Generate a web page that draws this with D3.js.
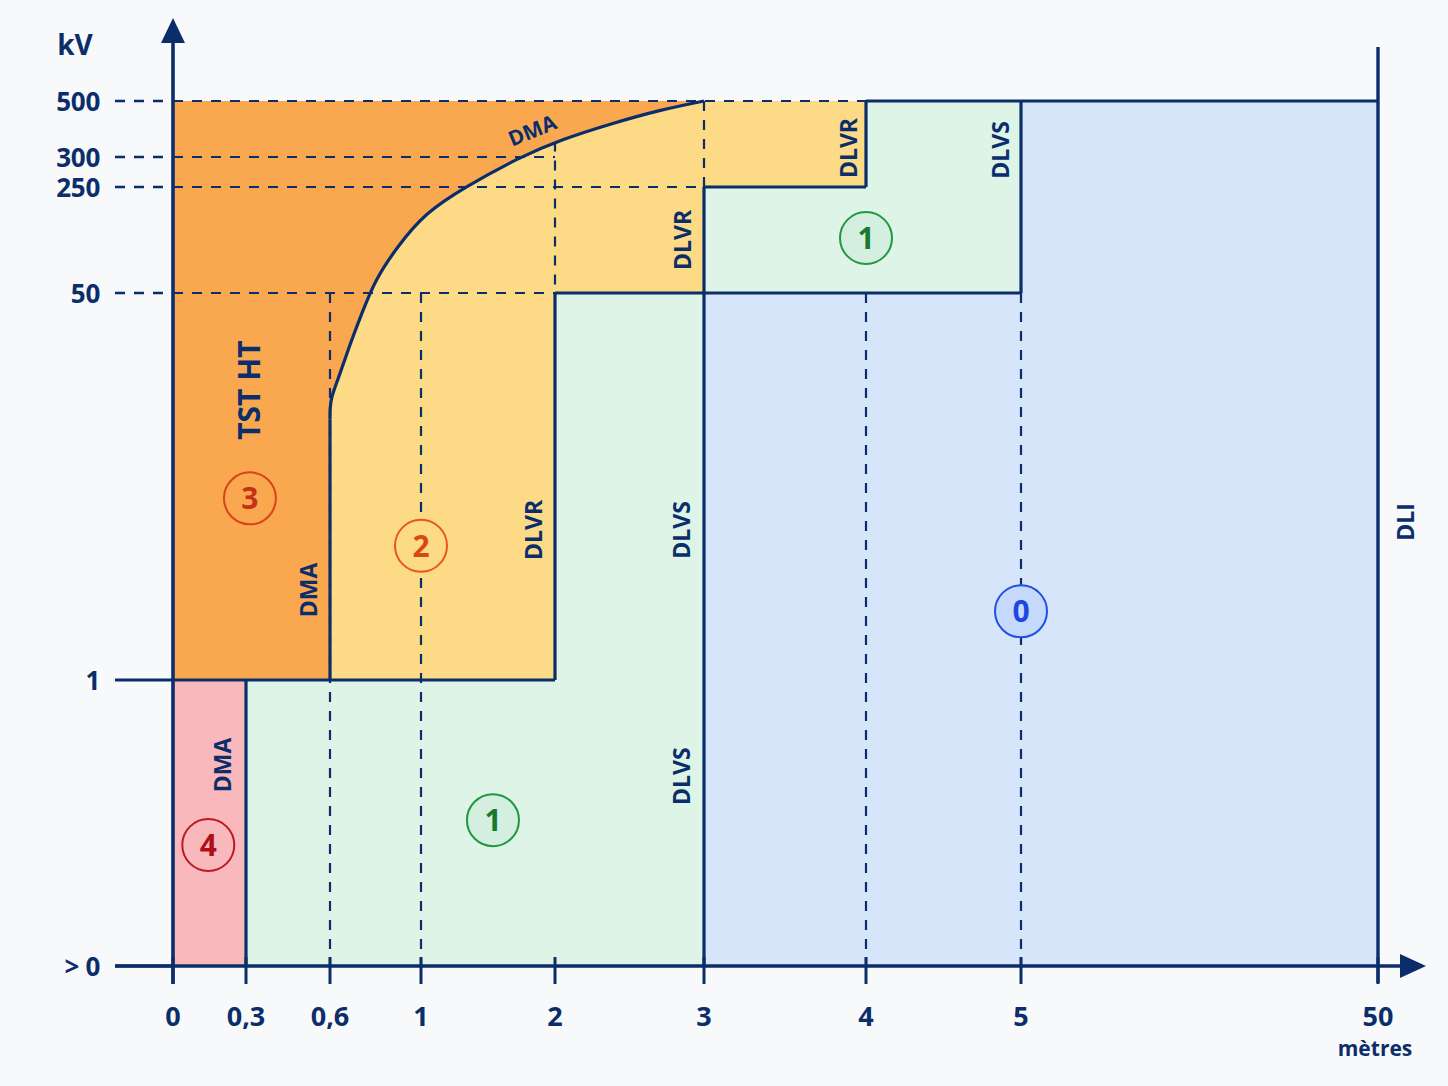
<!DOCTYPE html>
<html>
<head>
<meta charset="utf-8">
<script src="https://cdn.jsdelivr.net/npm/d3@7"></script>
<style>
  body { margin: 0; background: #f8f9fa; }
  svg { display: block; font-family: "Open Sans", sans-serif; font-weight: 700; }
</style>
</head>
<body>
<div id="graph-container"></div>
<script>
const WIDTH = 1448,
    HEIGHT = 1086;

const navy = "#0b2e6b";

// axes values (non linear)
const metres = [0, 0.3, 0.6, 1, 2, 3, 4, 5, 50];
const metreLabels = ["0", "0,3", "0,6", "1", "2", "3", "4", "5", "50"];
const kv = [0, 1, 50, 250, 300, 500];
const kvLabels = ["> 0", "1", "50", "250", "300", "500"];
const kvDashed = [false, false, true, true, true, true];

// DMA boundary curve, [metres, kV]
const dmaCurve = [
    [0.6, 34], [0.6, 36.5], [0.635, 39], [0.684, 43.2], [0.741, 47.5],
    [0.798, 74.5], [0.895, 137], [1.03, 201], [1.328, 250], [1.739, 300],
    [2.034, 361], [2.389, 421], [2.705, 468], [3, 500]
];

// zones, [metres, kV]
const zone4 = [[0, 0], [0.3, 0], [0.3, 1], [0, 1]];
const zone3 = [[0, 1], [3, 1], [3, 500], [0, 500]];
const zone2Rest = [[4, 500], [4, 250], [3, 250], [3, 50], [2, 50], [2, 1], [0.6, 1]];
const zone1a = [[0.3, 0], [3, 0], [3, 50], [2, 50], [2, 1], [0.3, 1]];
const zone1b = [[3, 50], [3, 250], [4, 250], [4, 500], [5, 500], [5, 50]];
const zone0 = [[3, 0], [50, 0], [50, 500], [5, 500], [5, 50], [3, 50]];

const zoneColors = {
    "0": "#d7e5fb", "1": "#ddf4e6", "2": "#fdda86", "3": "#f9a84f", "4": "#f9b8bb"
};

// solid boundaries, [[m, kV], [m, kV]]
const solidLines = [
    [[0.3, 0], [0.3, 1]],
    [[0.6, 1], [0.6, 34]],
    [[2, 1], [2, 50]],
    [[2, 50], [5, 50]],
    [[3, 0], [3, 250]],
    [[3, 250], [4, 250]],
    [[4, 250], [4, 500]],
    [[4, 500], [50, 500]],
    [[5, 50], [5, 500]],
    [[0, 1], [2, 1]]
];

// dashed guides
const dashedLines = [
    [[0, 500], [4, 500]],
    [[0, 300], [2, 300]],
    [[0, 250], [3, 250]],
    [[0, 50], [2, 50]],
    [[2, 355], [2, 50]],
    [[3, 500], [3, 250]],
    [[0.6, 50], [0.6, 0]],
    [[1, 50], [1, 0]],
    [[4, 50], [4, 0]],
    [[5, 50], [5, 0]]
];

// vertical labels: text, m, kV, dx (px), size
const vLabels = [
    ["TST HT", 0.3, 37.7, 3, 30],
    ["DMA", 0.6, 12.4, -21, 23],
    ["DLVR", 2, 20, -21, 23],
    ["DLVS", 3, 20, -22, 23],
    ["DLVS", 3, 0.664, -22, 23],
    ["DMA", 0.3, 0.703, -23, 23],
    ["DLVR", 3, 150, -21, 23],
    ["DLVR", 4, 332, -17, 23],
    ["DLVS", 5, 325, -20, 23],
    ["DLI", 50, 21, 28, 23]
];

// zone numbers: label, m, kV
const badges = [
    ["0", 5, 9.7],
    ["1", 4, 153.8],
    ["1", 1.537, 0.51],
    ["2", 1, 18],
    ["3", 0.314, 24],
    ["4", 0.145, 0.423]
];
const badgeStyle = {
    "0": { stroke: "#2350e0", text: "#1d48e0", fill: "#c4d9fb" },
    "1": { stroke: "#21973f", text: "#17792f", fill: "#d4efdf" },
    "2": { stroke: "#e8561c", text: "#d9490f", fill: zoneColors["2"] },
    "3": { stroke: "#d8431c", text: "#c5321a", fill: zoneColors["3"] },
    "4": { stroke: "#c01820", text: "#ad1018", fill: zoneColors["4"] }
};

const x = d3.scaleLinear()
    .domain(metres)
    .range([173, 246, 330, 421, 555, 704, 866, 1021, 1378]);

const y = d3.scaleLinear()
    .domain(kv)
    .range([966, 680, 293, 187, 157, 101]);

const svg = d3.select("#graph-container")
    .append("svg")
    .attr("width", WIDTH)
    .attr("height", HEIGHT);

svg.append("rect")
    .attr("width", WIDTH)
    .attr("height", HEIGHT)
    .attr("fill", "#f8f9fa");

const poly = d3.line().x((d) => x(d[0])).y((d) => y(d[1]));
// b-spline smooths the hand read points
const curveLine = d3.line()
    .curve(d3.curveBasis)
    .x((d) => x(d[0]))
    .y((d) => y(d[1]));

const fills = svg.append("g");

fills.append("path").attr("d", poly(zone3) + "Z").attr("fill", zoneColors["3"]);
fills.append("path")
    .attr("d", curveLine(dmaCurve) + poly(zone2Rest).replace("M", "L") + "Z")
    .attr("fill", zoneColors["2"]);
fills.append("path").attr("d", poly(zone4) + "Z").attr("fill", zoneColors["4"]);
fills.append("path").attr("d", poly(zone1a) + "Z").attr("fill", zoneColors["1"]);
fills.append("path").attr("d", poly(zone1b) + "Z").attr("fill", zoneColors["1"]);
fills.append("path").attr("d", poly(zone0) + "Z").attr("fill", zoneColors["0"]);

// dashed guides
svg.append("g")
    .selectAll("path")
    .data(dashedLines)
    .join("path")
    .attr("d", (d) => poly(d))
    .attr("stroke", navy)
    .attr("stroke-width", 2.2)
    .attr("stroke-dasharray", "10,9")
    .attr("fill", "none");

// y ticks to the left of the axis
svg.append("g")
    .selectAll("line")
    .data(kv)
    .join("line")
    .attr("x1", 115)
    .attr("x2", x(0))
    .attr("y1", (d) => y(d))
    .attr("y2", (d) => y(d))
    .attr("stroke", navy)
    .attr("stroke-width", (d, i) => kvDashed[i] ? 2.4 : 3.2)
    .attr("stroke-dasharray", (d, i) => kvDashed[i] ? "10,9" : null);

// solid boundaries
svg.append("g")
    .selectAll("path")
    .data(solidLines)
    .join("path")
    .attr("d", (d) => poly(d))
    .attr("stroke", navy)
    .attr("stroke-width", 3.2)
    .attr("fill", "none");

svg.append("path")
    .attr("d", curveLine(dmaCurve))
    .attr("stroke", navy)
    .attr("stroke-width", 3.2)
    .attr("fill", "none");

// DLI line
svg.append("line")
    .attr("x1", x(50)).attr("x2", x(50))
    .attr("y1", 47).attr("y2", 983)
    .attr("stroke", navy)
    .attr("stroke-width", 3.4);

// axes
svg.append("line")
    .attr("x1", x(0)).attr("x2", x(0))
    .attr("y1", 984).attr("y2", 38)
    .attr("stroke", navy)
    .attr("stroke-width", 3.6);
svg.append("path")
    .attr("d", `M${x(0)},18 L${x(0) - 12},43 L${x(0) + 12},43 Z`)
    .attr("fill", navy);

svg.append("line")
    .attr("x1", 115).attr("x2", 1405)
    .attr("y1", y(0)).attr("y2", y(0))
    .attr("stroke", navy)
    .attr("stroke-width", 3.6);
svg.append("path")
    .attr("d", `M1426,${y(0)} L1400,${y(0) - 12} L1400,${y(0) + 12} Z`)
    .attr("fill", navy);

svg.append("g")
    .selectAll("line")
    .data(metres)
    .join("line")
    .attr("x1", (d) => x(d))
    .attr("x2", (d) => x(d))
    .attr("y1", 957)
    .attr("y2", 984)
    .attr("stroke", navy)
    .attr("stroke-width", 3);

// tick labels
svg.append("g")
    .selectAll("text")
    .data(metres)
    .join("text")
    .attr("x", (d) => x(d))
    .attr("y", 1026)
    .attr("text-anchor", "middle")
    .attr("font-size", 27)
    .attr("fill", navy)
    .text((d, i) => metreLabels[i]);

svg.append("g")
    .selectAll("text")
    .data(kv)
    .join("text")
    .attr("x", 100)
    .attr("y", (d) => y(d) + 10)
    .attr("text-anchor", "end")
    .attr("font-size", 26)
    .attr("letter-spacing", -0.3)
    .attr("fill", navy)
    .text((d, i) => kvLabels[i]);

svg.append("text")
    .attr("x", 75).attr("y", 55)
    .attr("text-anchor", "middle")
    .attr("font-size", 28)
    .attr("fill", navy)
    .text("kV");

svg.append("text")
    .attr("x", x(50) - 3).attr("y", 1056)
    .attr("text-anchor", "middle")
    .attr("font-size", 21)
    .attr("fill", navy)
    .text("mètres");

// vertical labels
svg.append("g")
    .selectAll("text")
    .data(vLabels)
    .join("text")
    .attr("transform", (d) => `translate(${x(d[1]) + d[3]}, ${y(d[2])}) rotate(-90)`)
    .attr("text-anchor", "middle")
    .attr("dy", "0.36em")
    .attr("font-size", (d) => d[4])
    .attr("fill", navy)
    .text((d) => d[0]);

// DMA along the curve
svg.append("text")
    .attr("transform", `translate(${x(2.0) - 20}, ${y(345) - 7}) rotate(-22)`)
    .attr("text-anchor", "middle")
    .attr("font-size", 21)
    .attr("fill", navy)
    .text("DMA");

// zone numbers
const badge = svg.append("g")
    .selectAll("g")
    .data(badges)
    .join("g")
    .attr("transform", (d) => `translate(${x(d[1])}, ${y(d[2])})`);

badge.append("circle")
    .attr("r", 26)
    .attr("fill", (d) => badgeStyle[d[0]].fill)
    .attr("stroke", (d) => badgeStyle[d[0]].stroke)
    .attr("stroke-width", 2);

badge.append("text")
    .attr("text-anchor", "middle")
    .attr("dy", "0.36em")
    .attr("font-size", 30)
    .attr("fill", (d) => badgeStyle[d[0]].text)
    .text((d) => d[0]);
</script>
</body>
</html>
